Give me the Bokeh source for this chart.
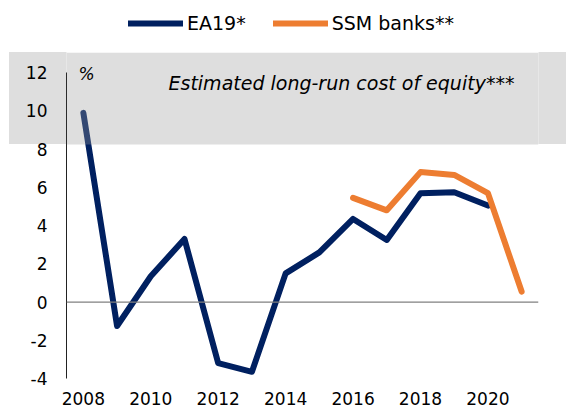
from bokeh.plotting import figure
from bokeh.models import (Range1d, FixedTicker, Span, BoxAnnotation, Label,
                          Legend, LegendItem, ColumnDataSource)
from bokeh.embed import file_html
from bokeh.resources import INLINE

# ---- data ----
ea19_years = [2008, 2009, 2010, 2011, 2012, 2013, 2014, 2015, 2016, 2017, 2018, 2019, 2020]
ea19_values = [9.9, -1.25, 1.35, 3.3, -3.2, -3.65, 1.5, 2.6, 4.35, 3.25, 5.7, 5.75, 5.05]
ssm_years = [2016, 2017, 2018, 2019, 2020, 2021]
ssm_values = [5.45, 4.8, 6.8, 6.65, 5.7, 0.55]
x_ticks = [2008, 2010, 2012, 2014, 2016, 2018, 2020]
y_ticks = [-4, -2, 0, 2, 4, 6, 8, 10, 12]
y_tick_labels = ["-4", "-2", "0", "2", "4", "6", "8", "10", "12"]
band_range = (8.24, 13.04)
title_text = "Estimated long-run cost of equity***"
unit_text = "%"

NAVY = "#002060"
ORANGE = "#ED7D31"
BAND = "#dedede"
FONT = "DejaVu Sans"

W, H = 566, 412
LEFT, RIGHT, TOP, BOTTOM = 66, 28, 0, 34
Y0, Y1 = -4, 15.78
p = figure(width=W, height=H, output_backend="svg", toolbar_location=None,
           x_range=Range1d(2007.5, 2021.5), y_range=Range1d(Y0, Y1),
           min_border_left=LEFT, min_border_right=RIGHT, min_border_top=TOP,
           min_border_bottom=BOTTOM)
p.outline_line_color = None
p.background_fill_color = "white"
p.border_fill_color = None
p.xgrid.visible = False
p.ygrid.visible = False

# band continuation outside the plotting frame (page background of the figure)
frame_h = H - TOP - BOTTOM
px_per_unit = frame_h / (Y1 - Y0)
band_top_px = TOP + (Y1 - band_range[1]) * px_per_unit
band_bot_px = TOP + (Y1 - band_range[0]) * px_per_unit
p.styles = {
    "background-color": "white",
    "background-image": (f"linear-gradient(to bottom, transparent {band_top_px:.1f}px, "
                         f"{BAND} {band_top_px:.1f}px, {BAND} {band_bot_px:.1f}px, "
                         f"transparent {band_bot_px:.1f}px)"),
    "background-repeat": "no-repeat",
    "background-position": "9px 0px",
    "background-size": f"{W - 9}px 100%",
}

# axes
p.xaxis.ticker = FixedTicker(ticks=x_ticks)
p.xaxis.axis_line_color = None
p.xaxis.major_tick_line_color = None
p.xaxis.minor_tick_line_color = None
p.xaxis.major_tick_out = 0
p.xaxis.major_label_standoff = 13
p.xaxis.major_label_text_font = FONT
p.xaxis.major_label_text_font_size = "17px"
p.xaxis.major_label_text_color = "black"

p.yaxis.ticker = FixedTicker(ticks=y_ticks)
p.yaxis.major_label_overrides = {t: s for t, s in zip(y_ticks, y_tick_labels)}
p.yaxis.bounds = (-4, 12)
p.yaxis.axis_line_color = "#222222"
p.yaxis.axis_line_width = 1
p.yaxis.major_tick_line_color = None
p.yaxis.minor_tick_line_color = None
p.yaxis.major_tick_out = 0
p.yaxis.major_label_standoff = 19
p.yaxis.major_label_text_font = FONT
p.yaxis.major_label_text_font_size = "17px"
p.yaxis.major_label_text_color = "black"

# zero line
p.add_layout(Span(location=0, dimension="width", line_color="#808080", line_width=1.3))

src_ea = ColumnDataSource(dict(x=ea19_years, y=ea19_values))
src_ssm = ColumnDataSource(dict(x=ssm_years, y=ssm_values))
r1 = p.line("x", "y", source=src_ea, line_color=NAVY, line_width=6,
            line_join="round", line_cap="round")
r2 = p.line("x", "y", source=src_ssm, line_color=ORANGE, line_width=6,
            line_join="round", line_cap="round")

# grey band overlaying the top of the frame (semi-transparent, over the lines)
band = BoxAnnotation(bottom=band_range[0], top=band_range[1],
                     fill_color="#9b9b9b", fill_alpha=0.33, line_color=None)
p.add_layout(band)

p.add_layout(Label(x=2010.525, y=11.48, text=title_text, text_font=FONT,
                   text_font_size="19px", text_font_style="italic",
                   text_color="black", text_baseline="alphabetic", level="overlay"))
p.add_layout(Label(x=2007.856, y=11.92, text=unit_text, text_font=FONT,
                   text_font_size="17px", text_font_style="italic",
                   text_color="black", text_baseline="alphabetic", level="overlay"))

legend = Legend(items=[LegendItem(label="EA19*", renderers=[r1]),
                       LegendItem(label="SSM banks**", renderers=[r2])],
                orientation="horizontal", location=(62, 344),
                glyph_width=55, glyph_height=20, label_height=20,
                label_standoff=4, spacing=27, padding=0, margin=0,
                border_line_color=None, background_fill_alpha=0,
                label_text_font=FONT, label_text_font_size="19px",
                label_text_color="black")
p.add_layout(legend)

open("out.html", "w").write(file_html(p, INLINE))
